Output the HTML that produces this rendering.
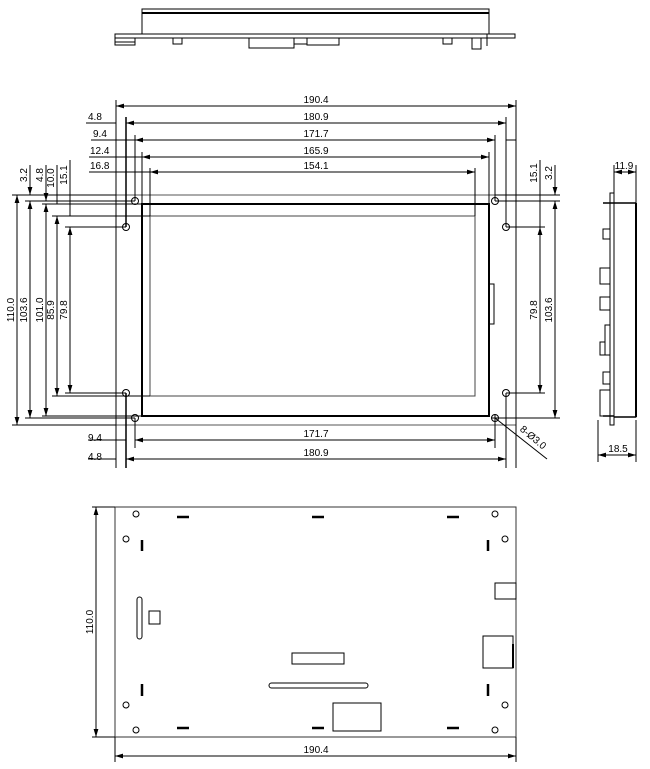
<!DOCTYPE html>
<html><head><meta charset="utf-8"><style>
html,body{margin:0;padding:0;background:#fff;}
svg{display:block;}
text{font-family:"Liberation Sans Narrow","Liberation Sans",sans-serif;font-size:10px;fill:#000;}
</style></head><body>
<svg width="650" height="769" viewBox="0 0 650 769" xmlns="http://www.w3.org/2000/svg">
<defs>
<marker id="a" viewBox="0 0 10 6" refX="10" refY="3" markerWidth="8" markerHeight="5" orient="auto-start-reverse"><path d="M0,0L10,3L0,6z" fill="#000"/></marker>
</defs>
<g fill="none" stroke="#000" stroke-width="1">
<!-- TOP VIEW -->
<rect x="115" y="34" width="400" height="4"/>
<rect x="142" y="9" width="347" height="25"/>
<line x1="142" y1="13" x2="489" y2="13" stroke-width="2"/>
<rect x="115" y="38" width="20" height="4"/>
<rect x="115" y="42" width="20" height="3"/>
<rect x="173" y="38" width="9" height="6"/>
<rect x="249" y="38" width="45" height="10"/>
<rect x="294" y="38" width="13" height="6"/>
<rect x="307" y="38" width="32" height="7"/>
<rect x="443" y="38" width="9" height="6"/>
<rect x="472" y="38" width="9" height="11"/>
<line x1="487" y1="34" x2="487" y2="46"/>

<!-- MAIN VIEW board -->
<rect x="116" y="195" width="400" height="230" stroke="#555"/>
<rect x="142" y="204" width="347" height="212" stroke-width="2"/>
<rect x="150" y="216" width="325" height="180" stroke="#444"/>
<rect x="489" y="284" width="5" height="40" stroke-width="1"/>
<circle cx="135" cy="201" r="3.5"/><circle cx="126" cy="227" r="3.5"/>
<circle cx="126" cy="393" r="3.5"/><circle cx="135" cy="418" r="3.5"/>
<circle cx="495" cy="201" r="3.5"/><circle cx="506" cy="227" r="3.5"/>
<circle cx="506" cy="393" r="3.5"/><circle cx="495" cy="418" r="3.5"/>
<line x1="491" y1="418" x2="499" y2="418"/><line x1="495" y1="414" x2="495" y2="422"/>

<!-- vertical extension lines -->
<line x1="116" y1="100" x2="116" y2="468"/>
<line x1="126" y1="117" x2="126" y2="227" stroke-width="1.5"/>
<line x1="126" y1="393" x2="126" y2="468" stroke-width="1.5"/>
<line x1="135" y1="135" x2="135" y2="201"/>
<line x1="135" y1="418" x2="135" y2="448"/>
<line x1="142" y1="152" x2="142" y2="204"/>
<line x1="150" y1="168" x2="150" y2="216"/>
<line x1="516" y1="100" x2="516" y2="468"/>
<line x1="506" y1="117" x2="506" y2="227"/>
<line x1="506" y1="393" x2="506" y2="468"/>
<line x1="495" y1="135" x2="495" y2="201"/>
<line x1="495" y1="418" x2="495" y2="448"/>
<line x1="489" y1="152" x2="489" y2="204"/>
<line x1="475" y1="168" x2="475" y2="216"/>

<!-- top horizontal dims -->
<line x1="116" y1="106" x2="516" y2="106" marker-start="url(#a)" marker-end="url(#a)"/>
<line x1="126" y1="123" x2="506" y2="123" marker-start="url(#a)" marker-end="url(#a)"/>
<line x1="135" y1="140" x2="495" y2="140" marker-start="url(#a)" marker-end="url(#a)"/>
<line x1="142" y1="157" x2="489" y2="157" marker-start="url(#a)" marker-end="url(#a)"/>
<line x1="150" y1="172" x2="475" y2="172" marker-start="url(#a)" marker-end="url(#a)"/>
<line x1="86" y1="123" x2="116" y2="123"/>
<line x1="91" y1="140" x2="135" y2="140"/>
<line x1="89" y1="157" x2="142" y2="157"/>
<line x1="89" y1="172" x2="150" y2="172"/>
<line x1="506" y1="140" x2="516" y2="140"/>

<!-- left horizontal extension lines -->
<line x1="12" y1="195" x2="116" y2="195"/>
<line x1="25" y1="201" x2="135" y2="201"/>
<line x1="42" y1="204" x2="142" y2="204"/>
<line x1="52" y1="216" x2="150" y2="216"/>
<line x1="65" y1="227" x2="126" y2="227"/>
<line x1="12" y1="425" x2="116" y2="425"/>
<line x1="25" y1="418" x2="135" y2="418"/>
<line x1="42" y1="416" x2="142" y2="416"/>
<line x1="52" y1="396" x2="150" y2="396"/>
<line x1="65" y1="393" x2="126" y2="393"/>
<!-- left vertical dims -->
<line x1="17" y1="195" x2="17" y2="425" marker-start="url(#a)" marker-end="url(#a)"/>
<line x1="30" y1="201" x2="30" y2="418" marker-start="url(#a)" marker-end="url(#a)"/>
<line x1="46" y1="204" x2="46" y2="416" marker-start="url(#a)" marker-end="url(#a)"/>
<line x1="57" y1="216" x2="57" y2="396" marker-start="url(#a)" marker-end="url(#a)"/>
<line x1="70" y1="227" x2="70" y2="393" marker-start="url(#a)" marker-end="url(#a)"/>
<line x1="30" y1="165" x2="30" y2="195" marker-end="url(#a)"/>
<line x1="46" y1="165" x2="46" y2="201" marker-end="url(#a)"/>
<line x1="57" y1="165" x2="57" y2="204"/>
<line x1="70" y1="160" x2="70" y2="216"/>

<!-- right side -->
<line x1="495" y1="195" x2="560" y2="195"/>
<line x1="495" y1="201" x2="560" y2="201"/>
<line x1="506" y1="227" x2="545" y2="227"/>
<line x1="506" y1="393" x2="545" y2="393"/>
<line x1="495" y1="418" x2="560" y2="418"/>
<line x1="540" y1="227" x2="540" y2="393" marker-start="url(#a)" marker-end="url(#a)"/>
<line x1="555" y1="201" x2="555" y2="418" marker-start="url(#a)" marker-end="url(#a)"/>
<line x1="540" y1="160" x2="540" y2="227"/>
<line x1="555" y1="165" x2="555" y2="195" marker-end="url(#a)"/>

<!-- bottom dims -->
<line x1="135" y1="440" x2="495" y2="440" marker-start="url(#a)" marker-end="url(#a)"/>
<line x1="126" y1="459" x2="506" y2="459" marker-start="url(#a)" marker-end="url(#a)"/>
<line x1="88" y1="440" x2="126" y2="440"/>
<line x1="88" y1="459" x2="116" y2="459"/>
<line x1="495" y1="418" x2="547" y2="459"/>

<!-- SIDE VIEW -->
<rect x="610" y="193" width="4" height="232"/>
<rect x="614" y="203" width="22" height="214"/>
<line x1="636" y1="203" x2="636" y2="417" stroke-width="2"/>
<line x1="614" y1="203" x2="636" y2="203" stroke-width="1.5"/>
<line x1="614" y1="417" x2="636" y2="417" stroke-width="1.5"/>
<rect x="603" y="229" width="7" height="10"/>
<rect x="600" y="268" width="10" height="16"/>
<rect x="600" y="297" width="10" height="13"/>
<rect x="605" y="325" width="5" height="30"/>
<rect x="600" y="342" width="5" height="13"/>
<rect x="603" y="372" width="7" height="12"/>
<rect x="600" y="390" width="10" height="26"/>
<line x1="603" y1="203" x2="614" y2="203" stroke-width="1.5"/>
<line x1="603" y1="416" x2="614" y2="416" stroke-width="1.5"/>
<line x1="614" y1="165" x2="614" y2="193"/>
<line x1="636" y1="165" x2="636" y2="203"/>
<line x1="614" y1="172" x2="636" y2="172" marker-start="url(#a)" marker-end="url(#a)"/>
<line x1="598" y1="420" x2="598" y2="462"/>
<line x1="636" y1="420" x2="636" y2="462"/>
<line x1="598" y1="455" x2="636" y2="455" marker-start="url(#a)" marker-end="url(#a)"/>

<!-- BOTTOM VIEW -->
<rect x="115" y="507" width="401" height="230" stroke="#333"/>
<g stroke-width="1">
<circle cx="136" cy="514" r="3"/><circle cx="126" cy="539" r="3"/>
<circle cx="126" cy="705" r="3"/><circle cx="136" cy="730" r="3"/>
<circle cx="495" cy="514" r="3"/><circle cx="505" cy="539" r="3"/>
<circle cx="505" cy="705" r="3"/><circle cx="495" cy="730" r="3"/>
</g>
<g stroke-width="2.5">
<line x1="177" y1="517" x2="189" y2="517"/><line x1="312" y1="517" x2="324" y2="517"/><line x1="447" y1="517" x2="459" y2="517"/>
<line x1="177" y1="728" x2="189" y2="728"/><line x1="312" y1="728" x2="324" y2="728"/><line x1="447" y1="728" x2="459" y2="728"/>
<line x1="142" y1="540" x2="142" y2="551"/><line x1="488" y1="540" x2="488" y2="551"/>
<line x1="142" y1="684" x2="142" y2="696"/><line x1="488" y1="684" x2="488" y2="696"/>
</g>
<rect x="137" y="597" width="5" height="42" rx="2.5"/>
<rect x="149" y="611" width="11" height="13"/>
<rect x="292" y="653" width="52" height="11"/>
<rect x="269" y="683" width="99" height="5" rx="2.5"/>
<rect x="333" y="703" width="48" height="28"/>
<rect x="495" y="583" width="21" height="16"/>
<rect x="483" y="636" width="30" height="32"/>
<line x1="513" y1="644" x2="513" y2="668" stroke-width="2"/>
<line x1="96" y1="507" x2="96" y2="737" marker-start="url(#a)" marker-end="url(#a)"/>
<line x1="92" y1="507" x2="115" y2="507"/>
<line x1="92" y1="737" x2="115" y2="737"/>
<line x1="115" y1="737" x2="115" y2="762"/>
<line x1="516" y1="737" x2="516" y2="762"/>
<line x1="115" y1="756" x2="516" y2="756" marker-start="url(#a)" marker-end="url(#a)"/>
</g>

<!-- labels -->
<g text-anchor="middle">
<text x="316" y="103">190.4</text>
<text x="316" y="120">180.9</text>
<text x="316" y="137">171.7</text>
<text x="316" y="154">165.9</text>
<text x="316" y="169">154.1</text>
<text x="316" y="437">171.7</text>
<text x="316" y="456">180.9</text>
<text x="316" y="753">190.4</text>
<text x="624" y="169">11.9</text>
<text x="618" y="452">18.5</text>
</g>
<text x="88" y="120">4.8</text>
<text x="93" y="137">9.4</text>
<text x="90" y="154">12.4</text>
<text x="90" y="169">16.8</text>
<text x="88" y="441">9.4</text>
<text x="88" y="460">4.8</text>
<g text-anchor="middle">
<text transform="translate(14,310) rotate(-90)">110.0</text>
<text transform="translate(27,310) rotate(-90)">103.6</text>
<text transform="translate(43,310) rotate(-90)">101.0</text>
<text transform="translate(54,310) rotate(-90)">85.9</text>
<text transform="translate(67,310) rotate(-90)">79.8</text>
<text transform="translate(27,175) rotate(-90)">3.2</text>
<text transform="translate(43,175) rotate(-90)">4.8</text>
<text transform="translate(54,178) rotate(-90)">10.0</text>
<text transform="translate(67,175) rotate(-90)">15.1</text>
<text transform="translate(537,310) rotate(-90)">79.8</text>
<text transform="translate(552,310) rotate(-90)">103.6</text>
<text transform="translate(537,173) rotate(-90)">15.1</text>
<text transform="translate(552,173) rotate(-90)">3.2</text>
<text transform="translate(93,622) rotate(-90)">110.0</text>
<text transform="translate(531,440) rotate(40)">8-Ø3.0</text>
</g>
</svg>
</body></html>
